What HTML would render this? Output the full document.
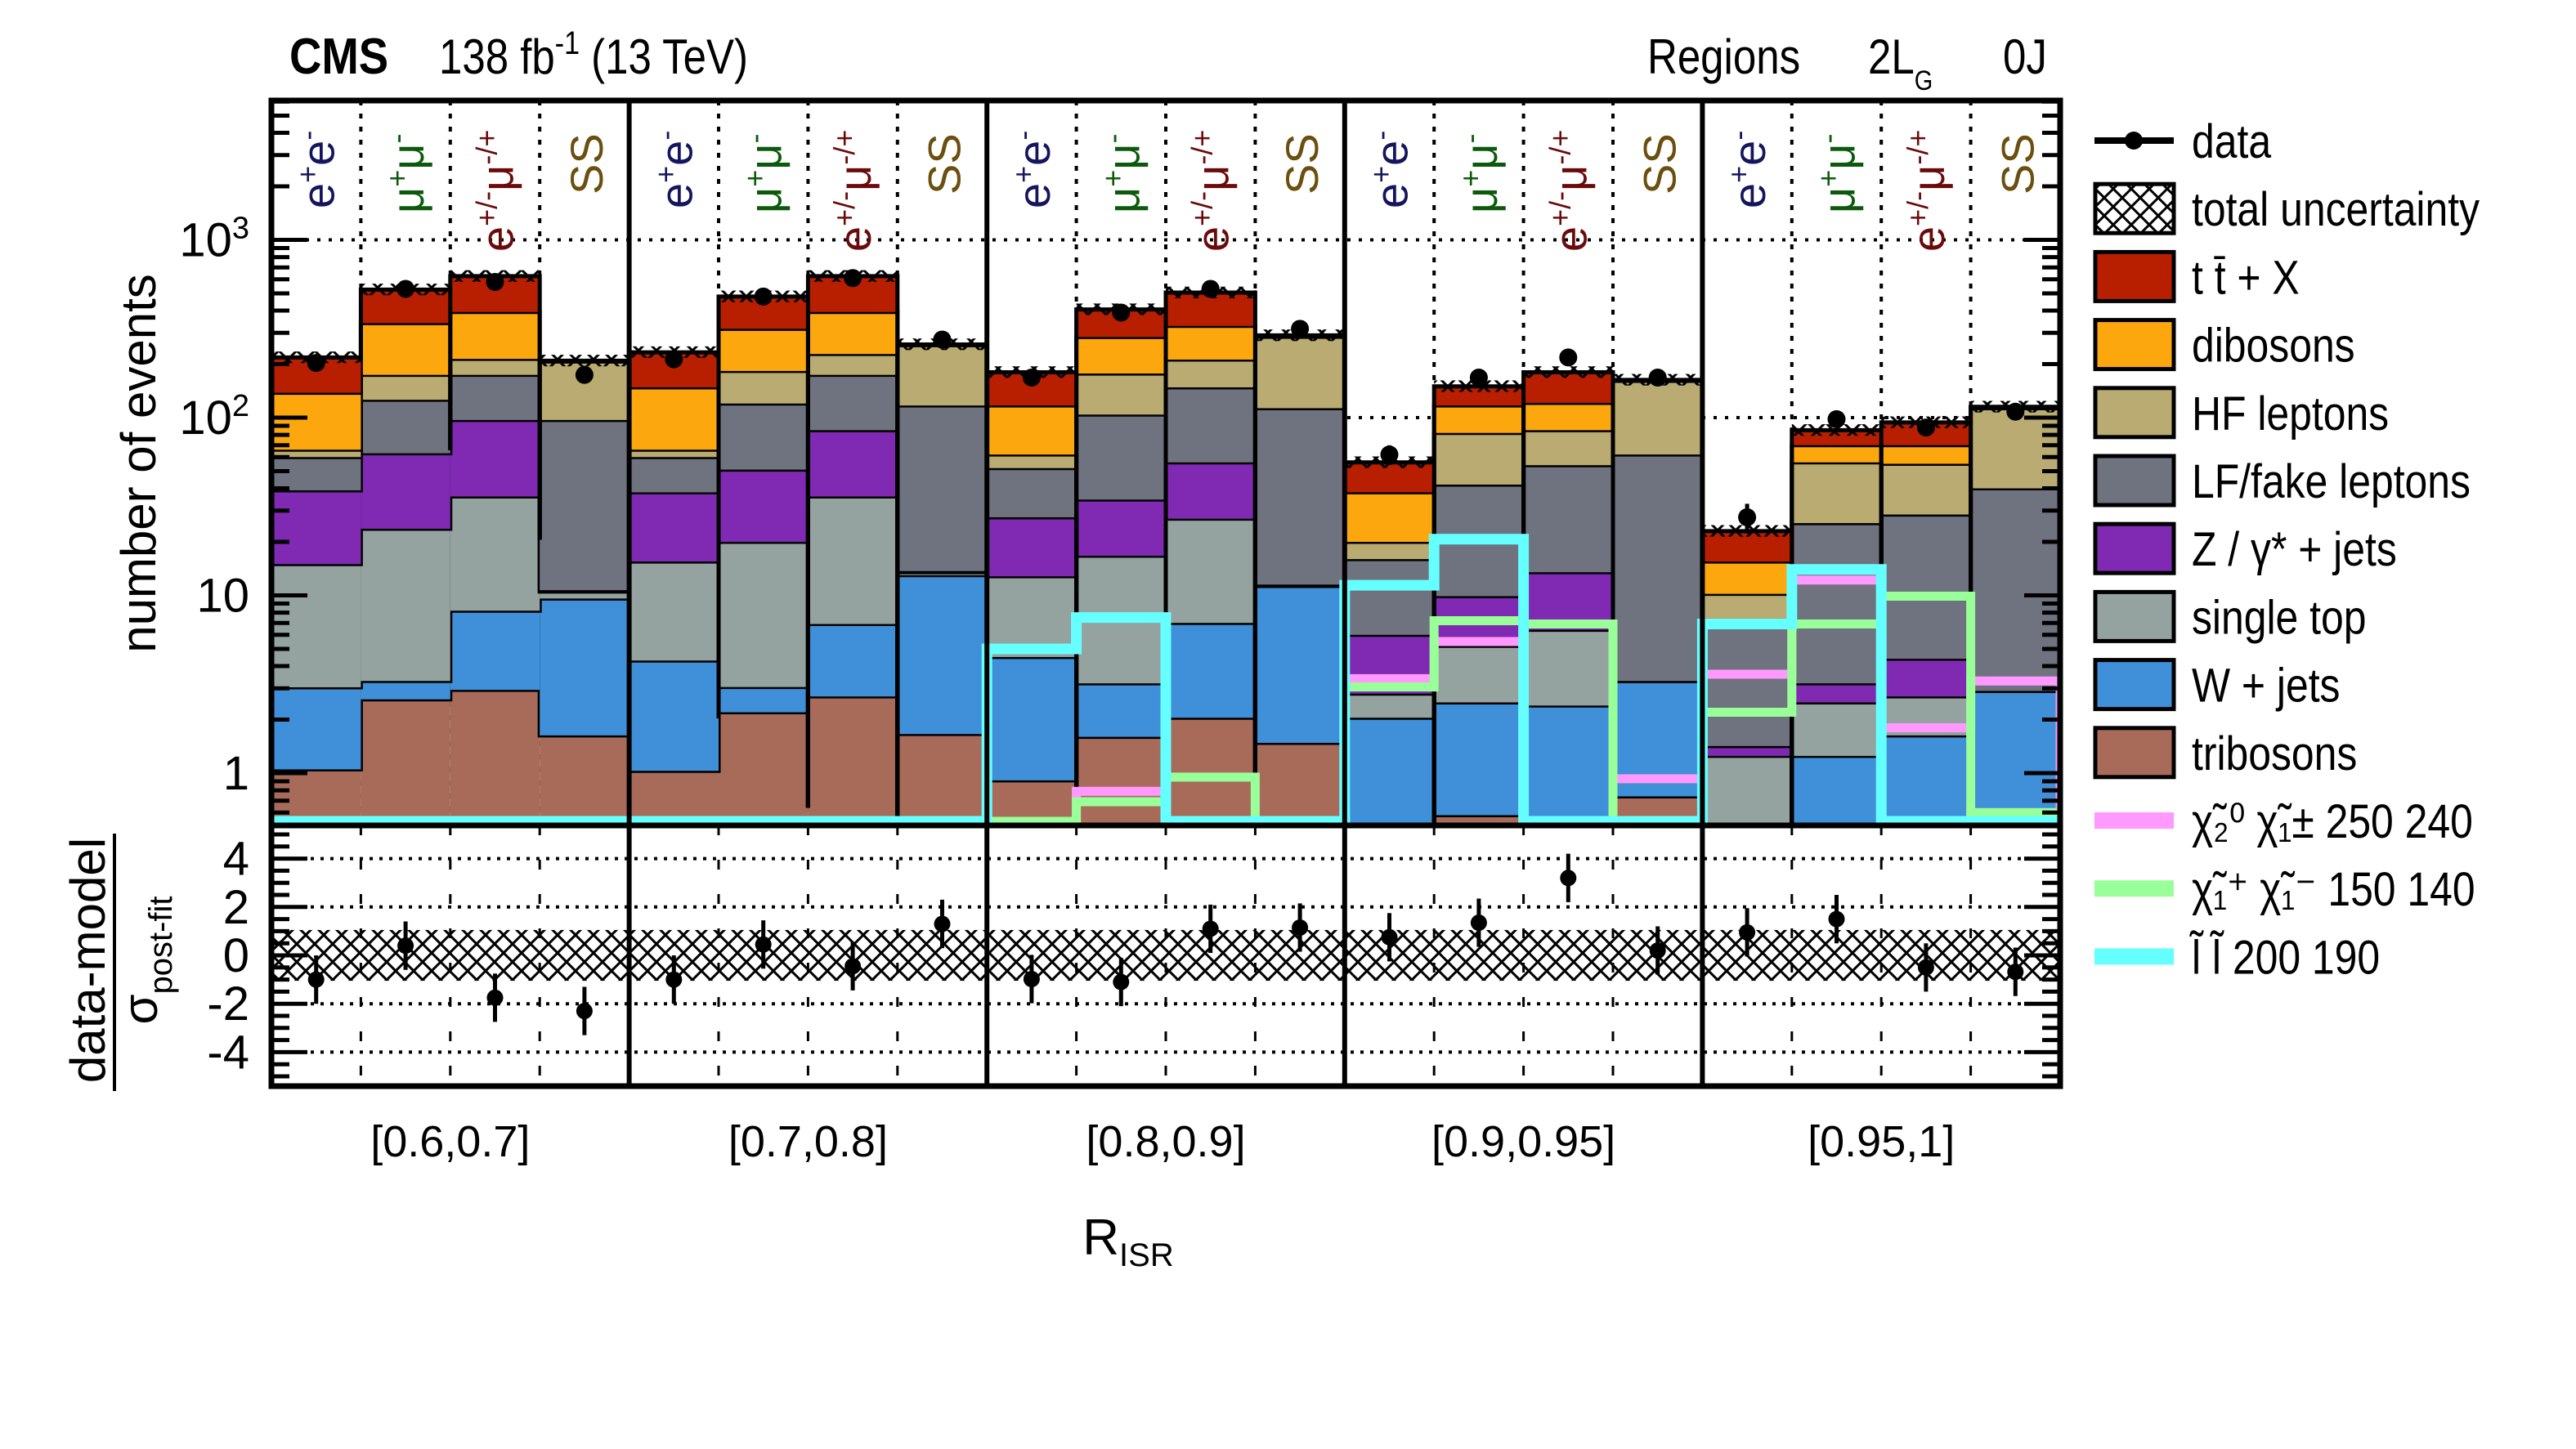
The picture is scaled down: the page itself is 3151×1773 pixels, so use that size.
<!DOCTYPE html>
<html><head><meta charset="utf-8"><title>CMS RISR regions</title>
<style>html,body{margin:0;padding:0;background:#fff;width:3151px;height:1773px;overflow:hidden}svg{display:block}text{font-family:"Liberation Sans",sans-serif}</style>
</head><body>
<svg id="chart" width="3151" height="1773" viewBox="0 0 3151 1773" xmlns="http://www.w3.org/2000/svg">
<defs>
<pattern id="hatch" patternUnits="userSpaceOnUse" width="22" height="22">
<path d="M0,0 L22,22 M22,0 L0,22" stroke="#000" stroke-width="3"/>
</pattern>
<clipPath id="mainclip"><rect x="332" y="123" width="2188" height="887"/></clipPath>
<clipPath id="ratioclip"><rect x="332" y="1010" width="2188" height="319"/></clipPath>
</defs>
<g id="main" clip-path="url(#mainclip)"></g>
<g id="ratio" clip-path="url(#ratioclip)"></g>
<g id="axes"></g>
<g id="legend"></g>
<g>
<text x="354" y="90" font-size="62" font-weight="bold" transform="translate(354,0) scale(0.88,1) translate(-354,0)">CMS</text>
<text x="537" y="90" font-size="60" transform="translate(537,0) scale(0.85,1) translate(-537,0)">138 fb<tspan dy="-24" font-size="40">-1</tspan><tspan dy="24"> (13 TeV)</tspan></text>
<text x="2015" y="90" font-size="60" transform="translate(2015,0) scale(0.85,1) translate(-2015,0)">Regions</text>
<text x="2285" y="90" font-size="60" transform="translate(2285,0) scale(0.85,1) translate(-2285,0)">2L<tspan dy="20" font-size="34">G</tspan></text>
<text x="2450" y="90" font-size="60" transform="translate(2450,0) scale(0.85,1) translate(-2450,0)">0J</text>
</g>
<text transform="translate(190,567) rotate(-90)" text-anchor="middle" font-size="60">number of events</text>
<g>
<text transform="translate(128,1175) rotate(-90)" text-anchor="middle" font-size="60">data-model</text>
<line x1="140" y1="1020" x2="140" y2="1335" stroke="#000" stroke-width="4"/>
<text transform="translate(192,1175) rotate(-90)" text-anchor="middle" font-size="60">σ<tspan font-size="40" dy="18">post-fit</tspan></text>
</g>
<text x="1380" y="1535" font-size="62" text-anchor="middle">R<tspan font-size="40" dy="14">ISR</tspan></text>
</svg>
<script>
// ---- data ----
const groupLabels = ["[0.6,0.7]","[0.7,0.8]","[0.8,0.9]","[0.9,0.95]","[0.95,1]"];
const channelLabels = ["ee","mm","em","SS"];
const cumTribosons = [1.05,2.6,2.94,1.63, 1.03,2.2,2.7,1.66, 0.91,1.6,2.05,1.48, 0.3,0.58,0.3,0.74, 0.3,0.3,0.3,0.3];
const cumWjets     = [3.04,3.3,8.2,9.6, 4.3,3.05,6.9,13, 4.5,3.2,7,11.3, 2.05,2.5,2.4,3.3, 0.3,1.25,1.63,2.9];
const cumSingleTop = [15,23.7,36,10.5, 15.5,20,36,13.5, 12.8,16.7,27,11.4, 2.8,5.2,6.4,3.3, 1.25,2.5,2.7,2.9];
const cumZjets     = [39,63,97,10.7, 38,51,85,13.7, 27.5,34.6,56,11.5, 6,9.9,13.5,3.3, 1.42,3.2,4.4,2.9];
const cumLFfake    = [60,126,174,97, 60,120,174,117, 52,104,148,113, 16,42,54,62, 7.4,25.5,28.5,40];
const cumHF        = [66,174,214,207, 66,183,228,256, 62,177,212,285, 20,82,85,161, 10.2,56,55,113];
const cumDibosons  = [138,340,393,207, 148,316,393,256, 117,284,328,288, 38,117,121,161, 15.5,70,70,113];
const cumTTX       = [218,525,625,209, 233,480,625,258, 180,406,505,290, 56,150,180,163, 23,85,94,115];
const dataValues   = [203,530,580,174, 213,480,610,275, 168,390,530,316, 62,168,218,168, 27.5,98,88,108];
const ratioValues  = [-1.0,0.4,-1.75,-2.3, -1.0,0.45,-0.45,1.3, -0.98,-1.1,1.1,1.15, 0.75,1.35,3.2,0.2, 0.95,1.5,-0.5,-0.68];
const sigC2C1   = [0,0,0,0, 0,0,0,0, 0,0.79,0,0, 3.4,5.5,0,0.93, 3.6,12.2,1.8,3.3];
const sigC1C1   = [0,0,0,0, 0,0,0,0, 0.4,0.69,0.95,0, 3.05,7.2,6.9,0.3, 2.2,6.9,9.9,0.6];
const sigSlep   = [0,0,0,0, 0,0,0,0, 5,7.5,0,0, 11.4,20.7,0,0, 6.9,14,0,0];
const yTickLabels = ["1","10","10²","10³"];
const ratioTickLabels = ["-4","-2","0","2","4"];

// ---- axis functions ----
const X0=332, X1=2520, NB=20, BW=(X1-X0)/NB;
const YMT=123, YMB=1010, RT=1010, RB=1329;
function xb(i){return X0+i*BW;}
function yv(v){const y=946-217.5*Math.log10(Math.max(v,0.3));return Math.min(y,YMB+20);}
function yr(r){return 1169-29.6*r;}
const NS="http://www.w3.org/2000/svg";
function mk(tag,attrs,parent){const e=document.createElementNS(NS,tag);for(const k in attrs)e.setAttribute(k,attrs[k]);parent.appendChild(e);return e;}
function tsp(parent,txt,attrs){const s=mk('tspan',attrs||{},parent);s.textContent=txt;return s;}
const main=document.getElementById('main'), ratio=document.getElementById('ratio'), axes=document.getElementById('axes'), legend=document.getElementById('legend');

// gridlines
[100,1000].forEach(v=>{const l=mk('line',{x1:X0,x2:X1,y1:yv(v),y2:yv(v),stroke:'#000','stroke-width':4,'stroke-dasharray':'4 10'},main);

});
for(let i=1;i<NB;i++){if(i%4===0)continue;const l=mk('line',{x1:xb(i),x2:xb(i),y1:YMT,y2:YMB,stroke:'#000','stroke-width':4,'stroke-dasharray':'6 10'},main);

}

// stacks
const procs=[
 ["tribosons",cumTribosons,null,"#a86b5a"],
 ["w-jets",cumWjets,cumTribosons,"#3f8fd9"],
 ["single-top",cumSingleTop,cumWjets,"#94a39f"],
 ["z-jets",cumZjets,cumSingleTop,"#8029b3"],
 ["lf-fake",cumLFfake,cumZjets,"#6f7380"],
 ["hf-leptons",cumHF,cumLFfake,"#b9ab71"],
 ["dibosons",cumDibosons,cumHF,"#fda70f"],
 ["ttx",cumTTX,cumDibosons,"#b81f00"]];
procs.forEach(([name,top,bot,col])=>{
 for(let i=0;i<NB;i++){
  const yt=yv(top[i]), yb=bot?yv(bot[i]):YMB+20;
  if(yb-yt<=0)continue;
  const r=mk('rect',{x:xb(i),y:yt,width:BW,height:yb-yt,fill:col},main);
  
  
 }
 for(let g=0;g<5;g++){
  let d='';
  for(let k=0;k<4;k++){const i=g*4+k;const y=yv(top[i]);d+=(k===0?'M':'V')+xb(i)+','+y+' H'+xb(i+1)+' ';}
  const p=mk('path',{d:d,fill:'none',stroke:'#000','stroke-width':5},main);
  
  
 }
});
// uncertainty band
for(let i=0;i<NB;i++){const t=cumTTX[i];const r=mk('rect',{x:xb(i),y:yv(t*1.08),width:BW,height:yv(t*0.93)-yv(t*1.08),fill:'url(#hatch)'},main);
 
 }
// signals
[[sigC2C1,"#ff99ff",11,"signal-c2c1"],[sigC1C1,"#99ff99",11,"signal-c1c1"],[sigSlep,"#66ffff",13,"signal-slepton"]].forEach(([arr,col,w,name])=>{
 for(let g=0;g<5;g++){
  let d='M'+xb(g*4)+','+(YMB+20);
  for(let k=0;k<4;k++){const i=g*4+k;const y=Math.min(yv(arr[i]),YMB-5);d+=' V'+y+' H'+xb(i+1);}
  d+=' V'+(YMB+20);
  const p=mk('path',{d:d,fill:'none',stroke:col,'stroke-width':w},main);
  
  
 }
});
// data points
for(let i=0;i<NB;i++){const cx=xb(i)+BW/2,cy=yv(dataValues[i]);const e=Math.sqrt(dataValues[i]);
 mk('line',{x1:cx,x2:cx,y1:yv(dataValues[i]+e),y2:yv(Math.max(dataValues[i]-e,0.5)),stroke:'#000','stroke-width':5},main);
 const c=mk('circle',{cx:cx,cy:cy,r:11,fill:'#000'},main);
 
 }

// channel labels
const chCols=["#15155e","#0b5a0b","#6b0a0a","#6b4f0f"];
const chStart=[255,261,308,238];
for(let i=0;i<NB;i++){const k=i%4;const cx=xb(i)+BW/2+22;
 const t=mk('text',{transform:'translate('+cx+','+chStart[k]+') rotate(-90)','font-size':56,style:'fill:'+chCols[k]},main);
 
 
 if(k===0){tsp(t,'e');tsp(t,'+',{dy:-20,'font-size':36});tsp(t,'e',{dy:20});tsp(t,'-',{dy:-20,'font-size':36});}
 else if(k===1){tsp(t,'μ');tsp(t,'+',{dy:-20,'font-size':36});tsp(t,'μ',{dy:20});tsp(t,'-',{dy:-20,'font-size':36});}
 else if(k===2){tsp(t,'e');tsp(t,'+/-',{dy:-20,'font-size':36});tsp(t,'μ',{dy:20});tsp(t,'-/+',{dy:-20,'font-size':36});}
 else {t.textContent='SS';}
}

// ratio panel
const band=mk('rect',{x:X0,y:yr(1.05),width:X1-X0,height:yr(-1.05)-yr(1.05),fill:'url(#hatch)'},ratio);


[-4,-2,2,4].forEach(v=>{mk('line',{x1:X0,x2:X1,y1:yr(v),y2:yr(v),stroke:'#000','stroke-width':4,'stroke-dasharray':'4 8'},ratio);});
for(let i=1;i<NB;i++){if(i%4===0)continue;mk('line',{x1:xb(i),x2:xb(i),y1:RT,y2:RB,stroke:'#000','stroke-width':3,'stroke-dasharray':'12 30'},ratio);}
for(let i=0;i<NB;i++){const cx=xb(i)+BW/2,cy=yr(ratioValues[i]);
 mk('line',{x1:cx,x2:cx,y1:yr(ratioValues[i]+1),y2:yr(ratioValues[i]-1),stroke:'#000','stroke-width':5},ratio);
 const c=mk('circle',{cx:cx,cy:cy,r:10,fill:'#000'},ratio);
 
 }

// frames & group separators
[[YMT,YMB],[RT,RB]].forEach(([a,b])=>{
 mk('rect',{x:X0,y:a,width:X1-X0,height:b-a,fill:'none',stroke:'#000','stroke-width':7},axes);
 for(let g=1;g<5;g++){mk('line',{x1:xb(g*4),x2:xb(g*4),y1:a,y2:b,stroke:'#000','stroke-width':6},axes);}
});
// main y ticks
for(let dec=-1;dec<4;dec++){for(let m=1;m<10;m++){const v=m*Math.pow(10,dec);const y=yv(v);if(y<YMT||y>YMB)continue;const L=m===1?44:22;
 mk('line',{x1:X0,x2:X0+L,y1:y,y2:y,stroke:'#000','stroke-width':5},axes);
 mk('line',{x1:X1-L,x2:X1,y1:y,y2:y,stroke:'#000','stroke-width':5},axes);}}
yTickLabels.forEach((lab,j)=>{const t=mk('text',{x:305,y:yv(Math.pow(10,j))+20,'font-size':58,'text-anchor':'end'},axes);
 
 
 if(j<2)t.textContent=lab;else{tsp(t,'10');tsp(t,String(j),{dy:-22,'font-size':38});}});
// ratio ticks
for(let v=-5;v<=5.01;v+=0.5){const y=yr(v);const L=(Math.abs(v%2)<0.01)?44:22;
 mk('line',{x1:X0,x2:X0+L,y1:y,y2:y,stroke:'#000','stroke-width':5},axes);
 mk('line',{x1:X1-L,x2:X1,y1:y,y2:y,stroke:'#000','stroke-width':5},axes);}
ratioTickLabels.forEach(lab=>{const t=mk('text',{x:305,y:yr(+lab)+20,'font-size':58,'text-anchor':'end'},axes);
 
 
 t.textContent=lab;});
// group labels
groupLabels.forEach((lab,g)=>{const t=mk('text',{x:xb(g*4+2),y:1415,'font-size':54,'text-anchor':'middle'},axes);
 
 
 t.textContent=lab;});

// legend
const legItems=[["data","line"],["total uncertainty","hatch"],["t t̄ + X","#b81f00"],["dibosons","#fda70f"],["HF leptons","#b9ab71"],["LF/fake leptons","#6f7380"],["Z / γ* + jets","#8029b3"],["single top","#94a39f"],["W + jets","#3f8fd9"],["tribosons","#a86b5a"],["χ̃₂⁰  χ̃₁±  250 240","sig:#ff99ff"],["χ̃₁⁺  χ̃₁⁻  150 140","sig:#99ff99"],["l̃  l̃  200 190","sig:#66ffff"]];
legItems.forEach(([lab,sty],j)=>{const cy=172+j*83.2;
 const g=mk('g',{},legend);
 
 
 if(sty==="line"){mk('line',{x1:2562,x2:2659,y1:cy,y2:cy,stroke:'#000','stroke-width':8},g);mk('circle',{cx:2610,cy:cy,r:11,fill:'#000'},g);}
 else if(sty==="hatch"){mk('rect',{x:2563,y:cy-30,width:96,height:60,fill:'url(#hatch)',stroke:'#000','stroke-width':5},g);}
 else if(sty.indexOf("sig:")===0){mk('rect',{x:2562,y:cy-10,width:97,height:20,fill:sty.slice(4)},g);}
 else {mk('rect',{x:2563,y:cy-30,width:96,height:60,fill:sty,stroke:'#000','stroke-width':5},g);}
 const t=mk('text',{x:2681,y:cy+21,'font-size':58,transform:'translate(2681,0) scale(0.86,1) translate(-2681,0)'},g);
 t.textContent=lab;
});
</script>
</body></html>
